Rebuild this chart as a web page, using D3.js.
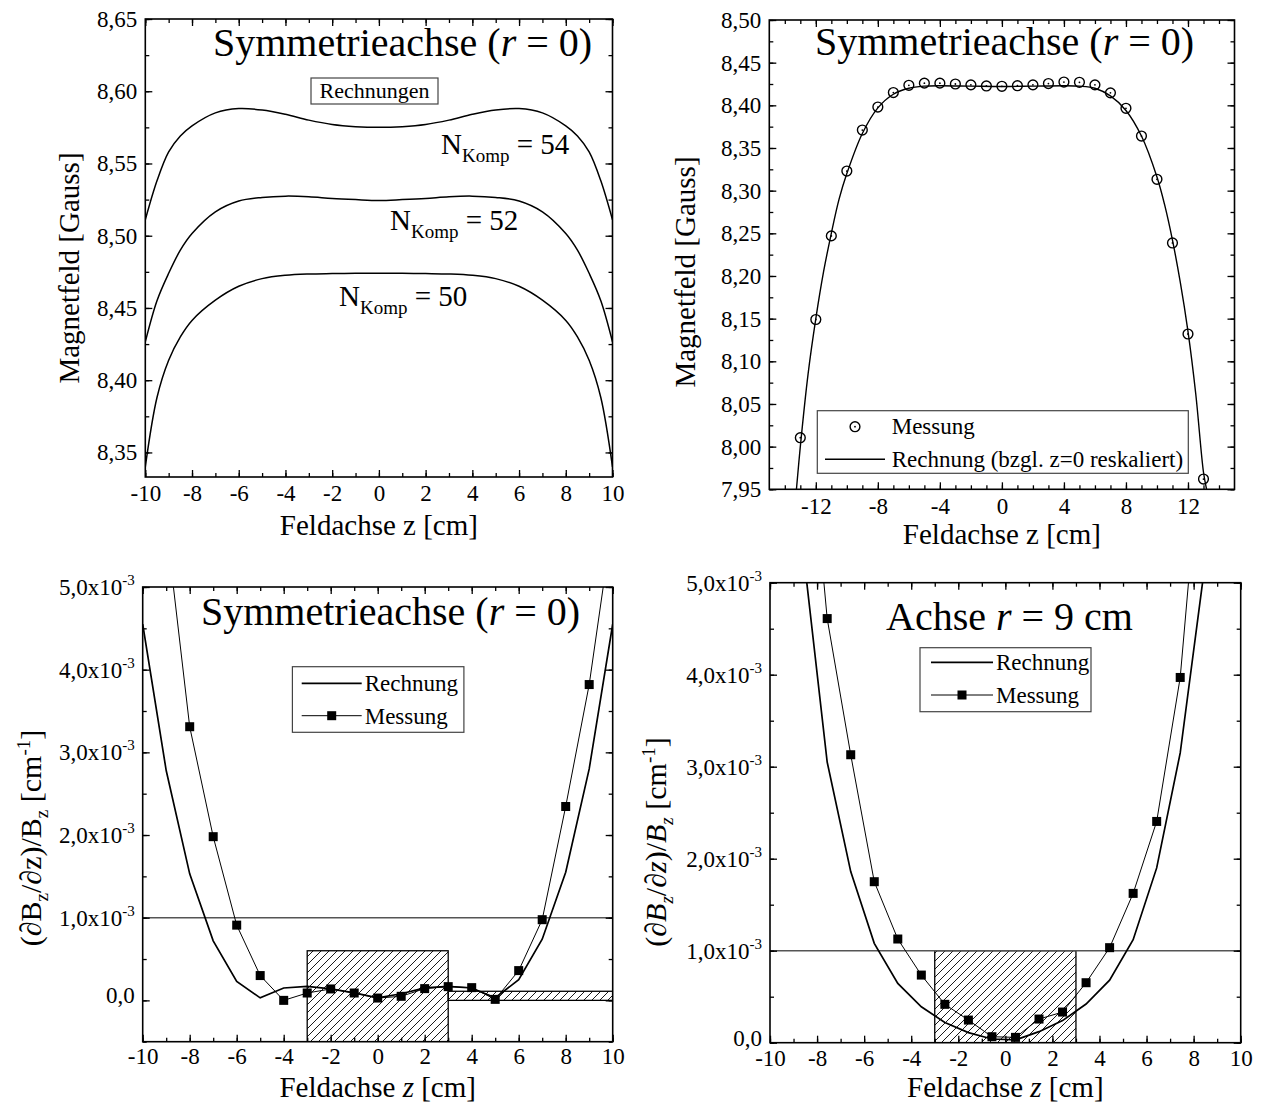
<!DOCTYPE html>
<html><head><meta charset="utf-8">
<script src="https://cdn.jsdelivr.net/npm/d3@7"></script>
<style>
body{margin:0;background:#fff}
svg{font-family:"Liberation Serif","Times New Roman",serif}
</style>
</head><body>
<svg id="c" width="1265" height="1104"></svg>
<script>
// ---------------- DATA ----------------
// Panel 1: calculations for three compensation coil counts
const zCalc1 = [-10,-9.5,-9,-8.5,-8,-7,-6,-5,-4,-3,-2,-1,0,1,2,3,4,5,6,7,8,8.5,9,9.5,10];
const bN54 = [8.511,8.538,8.558,8.569,8.576,8.585,8.588,8.587,8.584,8.580,8.577,8.5755,8.575,8.5755,8.577,8.580,8.584,8.587,8.588,8.585,8.576,8.569,8.558,8.538,8.511];
const bN52 = [8.4265,8.455,8.474,8.490,8.5015,8.5165,8.524,8.5265,8.5274,8.527,8.5258,8.525,8.5244,8.525,8.5258,8.527,8.5274,8.5265,8.524,8.5165,8.5015,8.490,8.474,8.455,8.4265];
const bN50 = [8.340,8.388,8.4138,8.430,8.4414,8.4554,8.465,8.4703,8.4726,8.4735,8.4738,8.474,8.474,8.474,8.4738,8.4735,8.4726,8.4703,8.465,8.4554,8.4414,8.430,8.4138,8.388,8.340];
const curveLabels1 = ["54","52","50"];

// Panel 2: measurement vs. rescaled calculation
const zMeas2 = [-13,-12,-11,-10,-9,-8,-7,-6,-5,-4,-3,-2,-1,0,1,2,3,4,5,6,7,8,9,10,11,12,13];
const bMeas2 = [8.0105,8.149,8.247,8.323,8.371,8.398,8.415,8.4235,8.426,8.426,8.425,8.424,8.4227,8.4223,8.423,8.424,8.4255,8.4273,8.427,8.424,8.4146,8.3965,8.364,8.3133,8.2387,8.132,7.962];
const zCalc2 = [-13.25,-13,-12.5,-12,-11.5,-11,-10.5,-10,-9,-8,-7,-6,-5,-4,-2,0,2,4,5,6,7,8,9,10,10.5,11,11.5,12,12.5,13,13.2];
const bCalc2 = [7.95,8.0,8.085,8.150,8.205,8.250,8.290,8.320,8.367,8.397,8.413,8.420,8.4225,8.423,8.4225,8.422,8.4225,8.423,8.4225,8.420,8.411,8.394,8.364,8.316,8.283,8.242,8.193,8.135,8.062,7.97,7.95];

// Panel 3: relative gradient on symmetry axis (values in 1e-3 cm^-1)
const zMeas3 = [-9,-8,-7,-6,-5,-4,-3,-2,-1,0,1,2,3,4,5,6,7,8,9,10];
const gMeas3 = [5.75,3.31,1.98,0.91,0.30,0.0,0.089,0.138,0.089,0.028,0.049,0.142,0.166,0.154,0.012,0.36,0.976,2.345,3.82,5.8];
const zCalc3 = [-10,-9,-8,-7,-6,-5,-4,-3,-2,-1,0,1,2,3,4,5,6,7,8,9,10];
const gCalc3 = [4.55,2.78,1.53,0.72,0.23,0.03,0.15,0.17,0.14,0.09,0.03,0.08,0.15,0.17,0.15,0.03,0.25,0.74,1.55,2.80,4.55];
const region3a = {z:[-3,3], g:[-0.5,0.6]};
const region3b = {z:[3,10], g:[0,0.11]};

// Panel 4: relative gradient on axis r = 9 cm (values in 1e-3 cm^-1)
const zMeas4 = [-8.57,-7.57,-6.57,-5.57,-4.57,-3.57,-2.57,-1.57,-0.57,0.43,1.43,2.43,3.43,4.43,5.43,6.43,7.43,8.43];
const gMeas4 = [7.4,4.61,3.13,1.75,1.127,0.735,0.417,0.246,0.065,0.058,0.257,0.333,0.652,1.033,1.623,2.405,3.97,6.9];
const zCalc4 = [-8.57,-7.57,-6.57,-5.57,-4.57,-3.57,-2.57,-1.57,-0.57,0.43,1.43,2.43,3.43,4.43,5.43,6.43,7.43,8.43];
const gCalc4 = [5.3,3.05,1.86,1.08,0.645,0.39,0.22,0.11,0.04,0.03,0.12,0.24,0.42,0.68,1.12,1.90,3.15,5.1];
const region4 = {z:[-3,3], g:[0,1.0]};
const limit34 = 1.0;

// ticks
const xTicks1 = [-10,-8,-6,-4,-2,0,2,4,6,8,10];
const xMinor1 = d3.range(-10,10.01,1);
const yTicks1 = [8.35,8.40,8.45,8.50,8.55,8.60,8.65];
const yMinor1 = d3.range(8.35,8.651,0.025);
const xTicks2 = [-12,-8,-4,0,4,8,12];
const xMinor2 = d3.range(-14,14.01,1);
const yTicks2 = [7.95,8.00,8.05,8.10,8.15,8.20,8.25,8.30,8.35,8.40,8.45,8.50];
const yMinor2 = d3.range(7.95,8.501,0.025);
const xTicks34 = [-10,-8,-6,-4,-2,0,2,4,6,8,10];
const xMinor34 = d3.range(-10,10.01,1);
const yTicks34 = [0,1,2,3,4,5];
const yMinor3 = d3.range(-0.5,5.01,0.5);
const yMinor4 = d3.range(0,5.01,0.5);

// ---------------- DRAWING ----------------
const svg = d3.select("#c");
const defs = svg.append("defs");
const hatch = defs.append("pattern").attr("id","hatch").attr("patternUnits","userSpaceOnUse")
  .attr("width",8).attr("height",8);
hatch.append("path").attr("d","M-2,2 L2,-2 M0,8 L8,0 M6,10 L10,6")
  .attr("stroke","#000").attr("stroke-width",0.9);

const comma = v => v.toFixed(2).replace(".",",");
const intFmt = v => String(Math.round(v));   // plain hyphen-minus as in the reference
const FS_TICK = 23;

function panel(id, box, xdom, ydom, xT, xM, yT, yM, xFmt, yFmt, xPad) {
  const x = d3.scaleLinear().domain(xdom).range([box.l, box.r]);
  const y = d3.scaleLinear().domain(ydom).range([box.b, box.t]);
  const g = svg.append("g");
  defs.append("clipPath").attr("id","clip"+id).append("rect")
    .attr("x",box.l).attr("y",box.t).attr("width",box.r-box.l).attr("height",box.b-box.t);
  const axes = svg.append("g");
  function ax(gen, tx, ty, vals, size, fmt, pad) {
    const a = axes.append("g").attr("transform",`translate(${tx},${ty})`)
      .call(gen.tickValues(vals).tickSize(size).tickPadding(pad||8).tickFormat(fmt||""));
    a.select(".domain").remove();
    a.selectAll("line").attr("stroke","#000").attr("stroke-width",1.3);
    a.selectAll("text").attr("font-size",FS_TICK).attr("fill","#000")
      .attr("font-family","Liberation Serif, Times New Roman, serif");
    return a;
  }
  const xb = ax(d3.axisBottom(x),0,box.b,xT,-7,xFmt,xPad);
  ax(d3.axisBottom(x),0,box.b,xM,-4);
  ax(d3.axisTop(x),0,box.t,xT,-7);
  ax(d3.axisTop(x),0,box.t,xM,-4);
  const yl = ax(d3.axisLeft(y),box.l,0,yT,-7,yFmt);
  ax(d3.axisLeft(y),box.l,0,yM,-4);
  ax(d3.axisRight(y),box.r,0,yT,-7);
  ax(d3.axisRight(y),box.r,0,yM,-4);
  axes.append("rect").attr("x",box.l).attr("y",box.t).attr("width",box.r-box.l).attr("height",box.b-box.t)
    .attr("fill","none").attr("stroke","#000").attr("stroke-width",1.6);
  const plot = g.append("g").attr("clip-path",`url(#clip${id})`);
  return {x,y,plot,xb,yl,g};
}

function title(parts, x, y) {
  const t = svg.append("text").attr("x",x).attr("y",y).attr("font-size",40);
  parts.forEach(p => { const s=t.append("tspan").text(p[0]); if(p[1]) s.attr("font-style","italic"); });
}

// ===== Panel 1 =====
const B1 = {l:145.3, r:612.5, t:19, b:477};
const p1 = panel(1,B1,[-10,10],[8.333,8.65],xTicks1,xMinor1,yTicks1,yMinor1,intFmt,comma);
const line1 = d3.line().x((d,i)=>p1.x(zCalc1[i])).y(d=>p1.y(d)).curve(d3.curveCatmullRom.alpha(0.5));
[bN54,bN52,bN50].forEach(s=>{
  p1.plot.append("path").attr("d",line1(s)).attr("fill","none").attr("stroke","#000").attr("stroke-width",1.5);
});
title([["Symmetrieachse ("],["r",1],[" = 0)"]], 213, 56);
svg.append("rect").attr("x",311).attr("y",78).attr("width",127).attr("height",26)
  .attr("fill","none").attr("stroke","#444").attr("stroke-width",1.2);
svg.append("text").attr("x",374.5).attr("y",98).attr("text-anchor","middle").attr("font-size",22).text("Rechnungen");
const labPos1 = [[441,154],[390,230],[339,306]];
curveLabels1.forEach((n,i)=>{
  const t = svg.append("text").attr("x",labPos1[i][0]).attr("y",labPos1[i][1]).attr("font-size",29);
  t.append("tspan").text("N");
  t.append("tspan").attr("dy",8).attr("font-size",19).text("Komp");
  t.append("tspan").attr("dy",-8).text(" = "+n);
});
svg.append("text").attr("transform","translate(79,268) rotate(-90)").attr("text-anchor","middle")
  .attr("font-size",29).text("Magnetfeld [Gauss]");
svg.append("text").attr("x",(B1.l+B1.r)/2).attr("y",535).attr("text-anchor","middle")
  .attr("font-size",29).text("Feldachse z [cm]");

// ===== Panel 2 =====
const B2 = {l:769.3, r:1234.5, t:20, b:489.3};
const p2 = panel(2,B2,[-15,15],[7.95,8.50],xTicks2,xMinor2,yTicks2,yMinor2,intFmt,comma);
const line2 = d3.line().x((d,i)=>p2.x(zCalc2[i])).y(d=>p2.y(d)).curve(d3.curveCatmullRom.alpha(0.5));
p2.plot.append("path").attr("d",line2(bCalc2)).attr("fill","none").attr("stroke","#000").attr("stroke-width",1.4);
const circ = p2.plot.selectAll(".m2").data(bMeas2).enter().append("g")
  .attr("transform",(d,i)=>`translate(${p2.x(zMeas2[i])},${p2.y(d)})`);
circ.append("circle").attr("r",4.9).attr("fill","none").attr("stroke","#000").attr("stroke-width",1.4);
circ.append("circle").attr("r",0.9).attr("fill","#000");
title([["Symmetrieachse ("],["r",1],[" = 0)"]], 815, 55);
svg.append("rect").attr("x",817.3).attr("y",410.7).attr("width",371).attr("height",62.6)
  .attr("fill","#fff").attr("stroke","#444").attr("stroke-width",1.2);
const lg2 = svg.append("g").attr("transform","translate(855,426.7)");
lg2.append("circle").attr("r",4.9).attr("fill","none").attr("stroke","#000").attr("stroke-width",1.4);
lg2.append("circle").attr("r",0.9).attr("fill","#000");
svg.append("text").attr("x",891.7).attr("y",434).attr("font-size",23).text("Messung");
svg.append("line").attr("x1",825).attr("x2",885).attr("y1",459.3).attr("y2",459.3).attr("stroke","#000").attr("stroke-width",1.4);
svg.append("text").attr("x",891.7).attr("y",467).attr("font-size",23).text("Rechnung (bzgl. z=0 reskaliert)");
svg.append("text").attr("transform","translate(695,272) rotate(-90)").attr("text-anchor","middle")
  .attr("font-size",29).text("Magnetfeld [Gauss]");
svg.append("text").attr("x",(B2.l+B2.r)/2).attr("y",544).attr("text-anchor","middle")
  .attr("font-size",29).text("Feldachse z [cm]");

// ===== helpers for bottom panels =====
function sciLabels(axisG) {
  axisG.selectAll(".tick text").each(function(d){
    const t = d3.select(this); t.text(null);
    if (d === 0) { t.attr("dy","0.1em").text("0,0"); return; }
    t.append("tspan").text(d.toFixed(1).replace(".",",")+"x10");
    t.append("tspan").attr("dy",-10).attr("font-size",15).text("-3");
  });
}
function gradTitle(x, y, ital) {
  const t = svg.append("text").attr("transform",`translate(${x},${y}) rotate(-90)`)
    .attr("text-anchor","middle").attr("font-size",30);
  const it = s => { if (ital) s.attr("font-style","italic"); return s; };
  t.append("tspan").text("(∂");
  it(t.append("tspan").text("B"));
  it(t.append("tspan").attr("dy",7).attr("font-size",19).text("z"));
  t.append("tspan").attr("dy",-7).text("/∂");
  it(t.append("tspan").text("z"));
  t.append("tspan").text(")/");
  it(t.append("tspan").text("B"));
  it(t.append("tspan").attr("dy",7).attr("font-size",19).text("z"));
  t.append("tspan").attr("dy",-7).text(" [cm");
  t.append("tspan").attr("dy",-11).attr("font-size",19).text("-1");
  t.append("tspan").attr("dy",11).text("]");
}
function xTitleIt(x, y) {
  const t = svg.append("text").attr("x",x).attr("y",y).attr("text-anchor","middle").attr("font-size",29);
  t.append("tspan").text("Feldachse ");
  t.append("tspan").attr("font-style","italic").text("z");
  t.append("tspan").text(" [cm]");
}
function gradPanel(p, box, zM, gM, zC, gC, regions) {
  regions.forEach(r=>{
    p.plot.append("rect").attr("x",p.x(r.z[0])).attr("y",p.y(r.g[1]))
      .attr("width",p.x(r.z[1])-p.x(r.z[0])).attr("height",p.y(r.g[0])-p.y(r.g[1]))
      .attr("fill","url(#hatch)").attr("stroke","#000").attr("stroke-width",1.3);
  });
  p.plot.append("line").attr("x1",box.l).attr("x2",box.r).attr("y1",p.y(limit34)).attr("y2",p.y(limit34))
    .attr("stroke","#555").attr("stroke-width",1.6);
  const lc = d3.line().x((d,i)=>p.x(zC[i])).y(d=>p.y(d));
  p.plot.append("path").attr("d",lc(gC)).attr("fill","none").attr("stroke","#000").attr("stroke-width",1.7);
  const lm = d3.line().x((d,i)=>p.x(zM[i])).y(d=>p.y(d));
  p.plot.append("path").attr("d",lm(gM)).attr("fill","none").attr("stroke","#000").attr("stroke-width",1.0);
  p.plot.selectAll(".sq").data(gM).enter().append("rect")
    .attr("x",(d,i)=>p.x(zM[i])-4.5).attr("y",d=>p.y(d)-4.5).attr("width",9).attr("height",9).attr("fill","#000");
}
function gradLegend(bx, by, bw, bh, lx1, lx2, y1, y2) {
  svg.append("rect").attr("x",bx).attr("y",by).attr("width",bw).attr("height",bh)
    .attr("fill","#fff").attr("stroke","#444").attr("stroke-width",1.2);
  svg.append("line").attr("x1",lx1).attr("x2",lx2).attr("y1",y1).attr("y2",y1).attr("stroke","#000").attr("stroke-width",1.7);
  svg.append("line").attr("x1",lx1).attr("x2",lx2).attr("y1",y2).attr("y2",y2).attr("stroke","#000").attr("stroke-width",1.0);
  svg.append("rect").attr("x",(lx1+lx2)/2-4.5).attr("y",y2-4.5).attr("width",9).attr("height",9).attr("fill","#000");
  svg.append("text").attr("x",lx2+3).attr("y",y1+8).attr("font-size",23).text("Rechnung");
  svg.append("text").attr("x",lx2+3).attr("y",y2+8).attr("font-size",23).text("Messung");
}

// ===== Panel 3 =====
const B3 = {l:142.7, r:612.7, t:587, b:1041.7};
const p3 = panel(3,B3,[-10,10],[-0.5,5],xTicks34,xMinor34,yTicks34,yMinor3,intFmt,d=>d,6);
sciLabels(p3.yl);
gradPanel(p3,B3,zMeas3,gMeas3,zCalc3,gCalc3,[region3a,region3b]);
title([["Symmetrieachse ("],["r",1],[" = 0)"]], 201, 625);
gradLegend(292.4,666.7,171.5,65.6,301.7,361.7,683.3,715.7);
gradTitle(41,838,false);
xTitleIt((B3.l+B3.r)/2,1097);

// ===== Panel 4 =====
const B4 = {l:770, r:1240.7, t:582.7, b:1042.7};
const p4 = panel(4,B4,[-10,10],[0,5],xTicks34,xMinor34,yTicks34,yMinor4,intFmt,d=>d,7);
sciLabels(p4.yl);
gradPanel(p4,B4,zMeas4,gMeas4,zCalc4,gCalc4,[region4]);
title([["Achse "],["r",1],[" = 9 cm"]], 886, 630);
gradLegend(920,647.7,171,64,931,993,662.3,695);
gradTitle(666,842,true);
xTitleIt((B4.l+B4.r)/2,1097);
</script>
</body></html>
